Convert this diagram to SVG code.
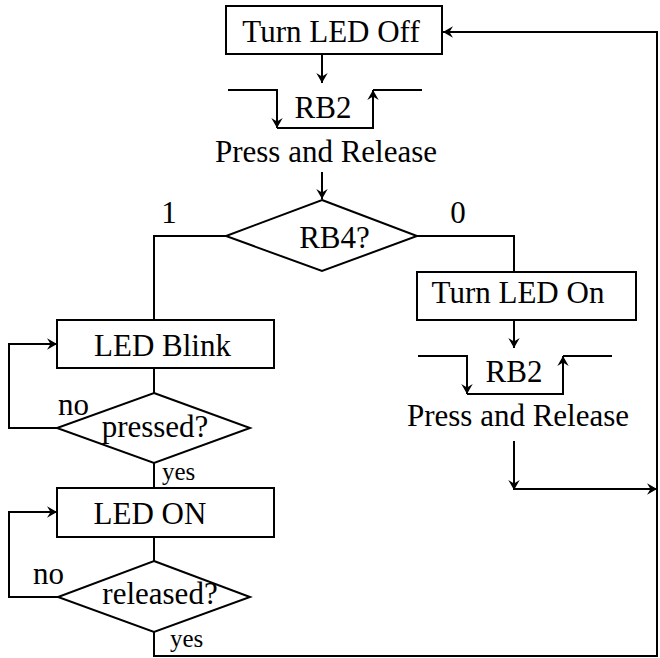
<svg xmlns="http://www.w3.org/2000/svg" width="660" height="658" viewBox="0 0 660 658">
<style>
.box{fill:#fff;stroke:#000;stroke-width:2}
.ln{fill:none;stroke:#000;stroke-width:2}
.t{font-family:"Liberation Serif","Times New Roman",serif;font-size:31px;fill:#000}
.s{font-family:"Liberation Serif","Times New Roman",serif;font-size:25px;fill:#000}
</style>
<defs>
<marker id="ah" viewBox="0 0 10 12" refX="10" refY="6" markerWidth="10" markerHeight="14" markerUnits="userSpaceOnUse" orient="auto">
<path d="M0,0.3 L10,6 L0,11.7 L3.5,6 z" fill="#000"/>
</marker>
</defs>
<rect width="660" height="658" fill="#fff"/>
<g id="connectors">
<path class="ln" d="M322,54 V83" marker-end="url(#ah)"/>
<path class="ln" d="M228,90 H277 V128" marker-end="url(#ah)"/>
<path class="ln" d="M277,128 H373 V90" marker-end="url(#ah)"/>
<path class="ln" d="M373,90 H422"/>
<path class="ln" d="M322,172 V199" marker-end="url(#ah)"/>
<path class="ln" d="M226,236 H154 V320"/>
<path class="ln" d="M417,236 H514 V272"/>
<path class="ln" d="M514,320 V348" marker-end="url(#ah)"/>
<path class="ln" d="M418,356 H467 V394" marker-end="url(#ah)"/>
<path class="ln" d="M467,394 H563 V356" marker-end="url(#ah)"/>
<path class="ln" d="M563,356 H612"/>
<path class="ln" d="M514,441 V490" marker-end="url(#ah)"/>
<path class="ln" d="M514,489 H657" marker-end="url(#ah)"/>
<path class="ln" d="M154,632 V656 H657 V32 H443" marker-end="url(#ah)"/>
<path class="ln" d="M154,368 V393"/>
<path class="ln" d="M57,428 H9 V344 H57" marker-end="url(#ah)"/>
<path class="ln" d="M154,463 V488"/>
<path class="ln" d="M154,537 V561"/>
<path class="ln" d="M58,597 H9 V512 H57" marker-end="url(#ah)"/>
</g>
<g id="turn-led-off">
<rect class="box" x="226" y="6" width="216" height="48"/>
<text class="t" x="331" y="42" text-anchor="middle">Turn LED Off</text>
</g>
<g id="rb2-a">
<text class="t" x="323" y="118" text-anchor="middle">RB2</text>
<text class="t" x="326" y="162" text-anchor="middle">Press and Release</text>
</g>
<g id="rb4">
<polygon class="box" points="322,200 417,236 322,271 226,236"/>
<text class="t" x="334.5" y="248" text-anchor="middle">RB4?</text>
<text class="t" x="169" y="223" text-anchor="middle">1</text>
<text class="t" x="458" y="223" text-anchor="middle">0</text>
</g>
<g id="turn-led-on">
<rect class="box" x="417" y="272" width="219" height="48"/>
<text class="t" x="518" y="303" text-anchor="middle">Turn LED On</text>
</g>
<g id="rb2-b">
<text class="t" x="514" y="382" text-anchor="middle">RB2</text>
<text class="t" x="518" y="426" text-anchor="middle">Press and Release</text>
</g>
<g id="led-blink">
<rect class="box" x="57" y="320" width="217" height="48"/>
<text class="t" x="162.5" y="356" text-anchor="middle">LED Blink</text>
</g>
<g id="pressed">
<polygon class="box" points="154,393 250,428 154,463 57,428"/>
<text class="t" x="155" y="437" text-anchor="middle">pressed?</text>
<text class="t" x="58" y="415">no</text>
<text class="s" x="162" y="480">yes</text>
</g>
<g id="led-on">
<rect class="box" x="57" y="488" width="217" height="49"/>
<text class="t" x="150" y="524" text-anchor="middle">LED ON</text>
</g>
<g id="released">
<polygon class="box" points="154,561 250,597 154,632 58,597"/>
<text class="t" x="160" y="604" text-anchor="middle">released?</text>
<text class="t" x="33" y="584">no</text>
<text class="s" x="170" y="647">yes</text>
</g>
</svg>
